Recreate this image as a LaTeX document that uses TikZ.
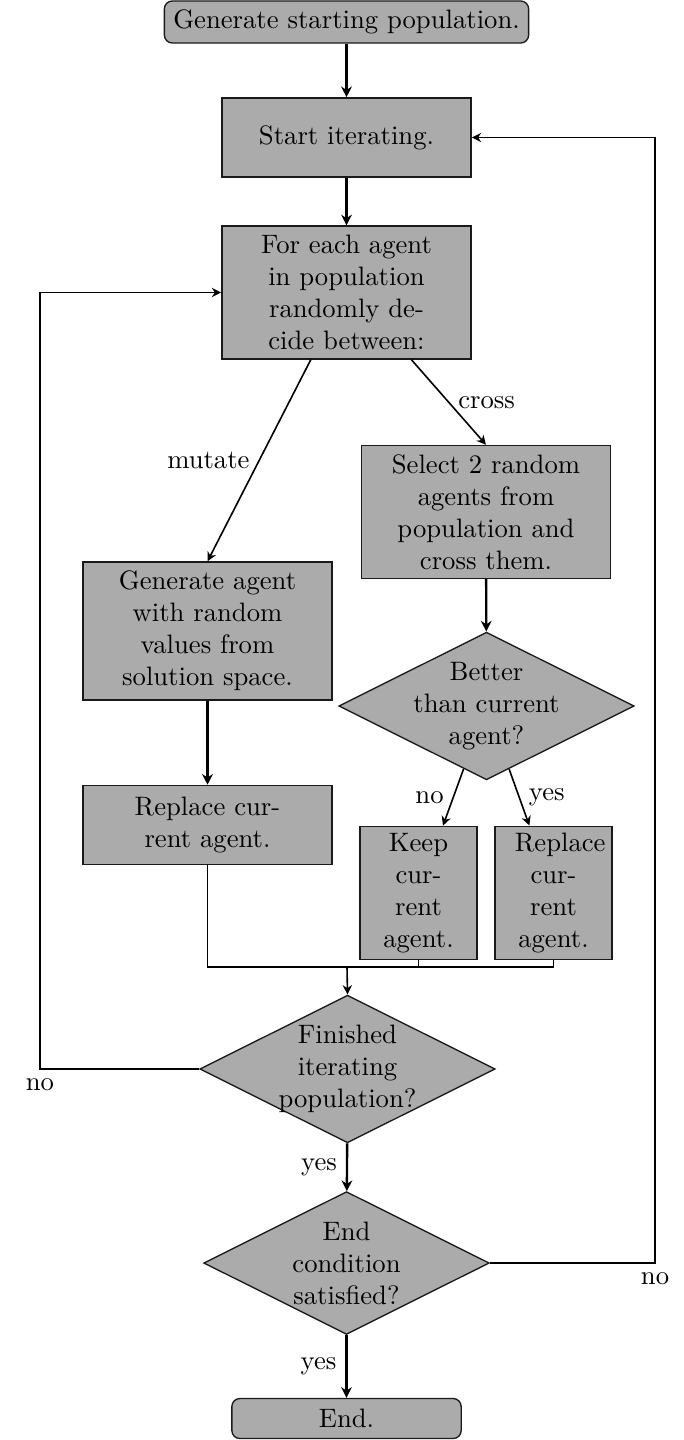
\documentclass[tikz,border=0pt]{standalone}
\usepackage{tikz}
\usepackage{xcolor}
\usetikzlibrary{arrows.meta,positioning,calc,shapes.geometric}
\definecolor{flowgray}{HTML}{ABABAB}
\definecolor{flowline}{HTML}{1A1A1A}

\begin{document}
\begin{tikzpicture}[
  x=0.375pt, y=-0.375pt,
  fTerm/.style    ={rectangle, rounded corners=3pt, draw=flowline, fill=flowgray, minimum width=86pt, minimum height=15pt, line width=0.5pt},
  fBlock/.style   ={rectangle, draw=flowline, fill=flowgray, align=center, minimum width=93.4pt, minimum height=29.6pt, line width=0.6pt},
  fNarrow/.style  ={rectangle, draw=flowline, fill=flowgray, text width=29pt, align=center, inner xsep=7.5pt, inner ysep=2.5pt, line width=0.6pt},
  fDecision/.style={diamond, aspect=2, draw=flowline, fill=flowgray, text width=60pt, align=center, inner sep=-2.5pt, line width=0.5pt},
  fArrow/.style   ={-{Stealth[length=3.5pt,width=3.5pt]}, line width=0.6pt},
  fThick/.style   ={-{Stealth[length=4pt,width=4pt]}, line width=0.9pt},
  fLoop/.style    ={-{Stealth[length=3.5pt,width=3.5pt]}, line width=0.5pt},
]
\useasboundingbox (0,0) rectangle (684,1440);

% main column
\node[fTerm]  (start) at (346.5,22)    {Generate starting population.};
\node[fBlock] (iter)  at (346.5,137.5) {Start iterating.};
\node[fBlock] (each)  at (346.5,292.5) {For each agent\\in population\\randomly de-\\cide between:};

% two branches
\node[fBlock] (gen)   at (207.5,631)   {Generate agent\\with random\\values from\\solution space.};
\node[fBlock] (rep1)  at (207.5,825)   {Replace cur-\\rent agent.};
\node[fBlock] (cross) at (486,512)     {Select 2 random\\agents from\\population and\\cross them.};
\node[fDecision] (better) at (486.5,706) {Better\\than current\\agent?};
\node[fNarrow] (keep) at (418.5,893)   {Keep\\cur-\\rent\\agent.};
\node[fNarrow] (rep2) at (553.5,893)   {\mbox{Replace}\\cur-\\rent\\agent.};

% checks and end
\node[fDecision] (fin)  at (347.5,1069) {Finished\\iterating\\population?};
\node[fDecision] (endc) at (346.5,1263) {End\\condition\\satisfied?};
\node[fTerm]  (stop)  at (346.5,1418.5) {End.};

\coordinate (merge) at (347,967);
\coordinate (leftRail) at (40,0);
\coordinate (rightRail) at (655,0);

\draw[fThick] (start) -- (iter);
\draw[fThick] (iter) -- (each);
\draw[fArrow] (each.242) -- (gen.north) node[midway, left] {mutate};
\draw[fArrow] (each.314) -- (cross.north) node[midway, right] {cross};
\draw[fThick] (gen) -- (rep1);
\draw[fThick] (cross) -- (better);
\draw[fArrow] (better) -- (keep) node[midway, left] {no};
\draw[fArrow] (better) -- (rep2) node[midway, right] {yes};

% join the branches
\draw[line width=0.6pt] (rep1.south) |- (rep2.south |- merge);
\draw[line width=0.6pt] (keep.south) -- (keep.south |- merge);
\draw[line width=0.6pt] (rep2.south) -- (rep2.south |- merge);
\draw[fArrow] (merge) -- (fin.north);

\draw[fThick] (fin) -- (endc) node[midway, left] {yes};
\draw[fThick] (endc) -- (stop) node[midway, left] {yes};

% loops back
\draw[fLoop] (fin.west) -- (fin.west -| leftRail) node[below] {no} |- (each.west);
\draw[fLoop] (endc.east) -- (endc.east -| rightRail) node[below] {no} |- (iter.east);
\end{tikzpicture}
\end{document}
